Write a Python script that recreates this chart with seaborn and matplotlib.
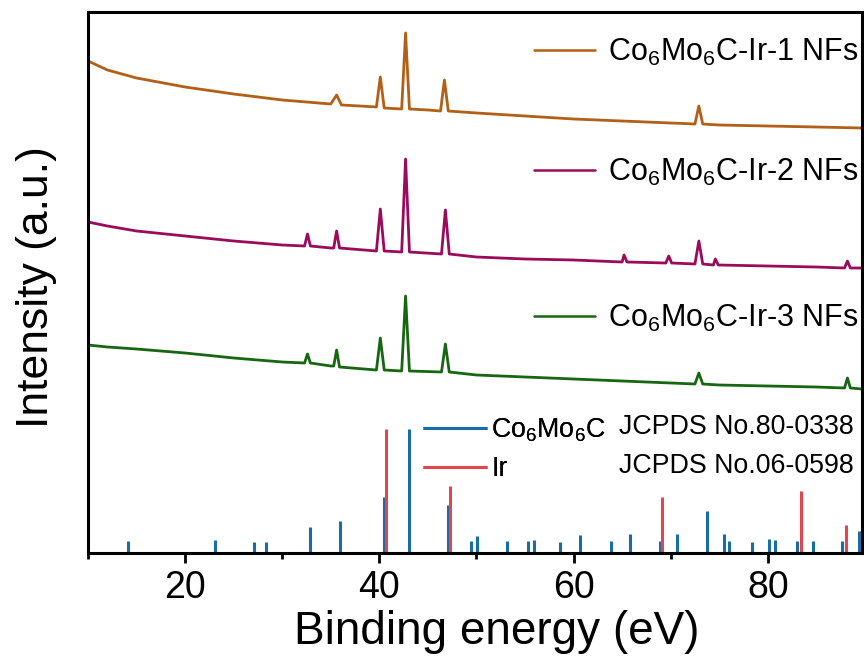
import numpy as np
import pandas as pd
import matplotlib
matplotlib.use("Agg")
import matplotlib.pyplot as plt
import seaborn as sns
from matplotlib.ticker import MultipleLocator
from matplotlib.lines import Line2D

# ---------------- data ----------------
# Curve 1 (Co6Mo6C-Ir-1 NFs)
x1 = [10, 12, 15, 20, 25, 30, 35, 35.6, 36.1, 38, 39.7, 40.1, 40.5, 42.3, 42.7, 43.1,
      45, 46.3, 46.7, 47.1, 50, 55, 60, 65, 70, 72.5, 72.9, 73.3, 75, 80, 85, 89.7]
y1 = [492, 483, 475, 466, 459, 453, 449, 458, 448, 447, 446, 476, 445, 444, 520, 444,
      443, 442, 473, 442, 440, 437, 434, 432, 430, 429, 447, 429, 428, 427, 426, 425]

# Curve 2 (Co6Mo6C-Ir-2 NFs)
x2 = [10, 12, 15, 20, 25, 30, 32.3, 32.6, 32.9, 35, 35.3, 35.6, 35.9, 39.7, 40.1, 40.5,
      42.3, 42.7, 43.1, 46.4, 46.8, 47.2, 50, 55, 60, 65, 65.2, 65.5, 69.5, 69.8, 70.1,
      72.5, 72.9, 73.3, 74.4, 74.6, 74.9, 80, 85, 87.9, 88.2, 88.5, 89.7]
y2 = [331, 327, 322, 317, 312, 308, 307, 319, 307, 305, 305, 322, 305, 302, 344, 302,
      301, 394, 301, 299, 343, 299, 296, 294, 293, 291, 298, 291, 290, 297, 290,
      289, 312, 289, 288, 294, 288, 287, 286, 285, 292, 285, 285]

# Curve 3 (Co6Mo6C-Ir-3 NFs)
x3 = [10, 12, 15, 20, 25, 30, 32.3, 32.6, 32.9, 35, 35.3, 35.6, 35.9, 39.7, 40.1, 40.5,
      42.3, 42.7, 43.1, 46.4, 46.8, 47.2, 50, 55, 60, 65, 70, 72.5, 72.9, 73.3, 75, 80,
      85, 87.9, 88.2, 88.5, 89.7]
y3 = [208, 206, 204, 200, 195, 191, 190, 199, 190, 187, 187, 203, 186, 183, 215, 183,
      182, 257, 182, 181, 209, 181, 178, 176, 174, 172, 170, 169, 180, 169, 168, 167,
      166, 165, 175, 165, 164]

labels = ["Co$_\\mathrm{6}$Mo$_\\mathrm{6}$C-Ir-1 NFs",
          "Co$_\\mathrm{6}$Mo$_\\mathrm{6}$C-Ir-2 NFs",
          "Co$_\\mathrm{6}$Mo$_\\mathrm{6}$C-Ir-3 NFs"]
colors = ["#B25F17", "#9A0B5C", "#176612"]

# Reference pattern: Co6Mo6C (JCPDS No.80-0338)
co_pos = [14.1, 23.1, 27.1, 28.3, 32.9, 35.9, 40.5, 43.1, 47.1, 49.45, 50.1, 53.1, 55.3,
          55.9, 58.6, 60.7, 63.9, 65.8, 68.9, 70.7, 73.7, 75.5, 76.0, 78.4, 80.1, 80.7,
          83.0, 84.7, 87.6, 89.4]
co_int = [11.6, 13.3, 10.6, 11.3, 26, 32.3, 56, 124, 48.3, 11.6, 17, 11.6, 11.6,
          13.3, 10.6, 18, 11.6, 19, 12.3, 19, 41.6, 19, 11.6, 10.6, 14, 12.6,
          11.6, 11.6, 11.6, 22.3]
# Reference pattern: Ir (JCPDS No.06-0598)
ir_pos = [40.7, 47.3, 69.1, 83.4, 88.05]
ir_int = [124, 67.3, 56, 62.3, 28.3]

ref_labels = ["Co$_\\mathrm{6}$Mo$_\\mathrm{6}$C", "Ir"]
ref_cards = ["JCPDS No.80-0338", "JCPDS No.06-0598"]
ref_colors = ["#1A6CA8", "#E0474C"]

# ---------------- styling ----------------
sns.set_theme(style="ticks")
plt.rcParams["font.family"] = ["Liberation Sans", "DejaVu Sans"]
plt.rcParams["mathtext.fontset"] = "custom"
plt.rcParams["mathtext.rm"] = "Liberation Sans"
plt.rcParams["mathtext.it"] = "Liberation Sans:italic"
plt.rcParams["mathtext.bf"] = "Liberation Sans:bold"
plt.rcParams["text.color"] = "black"
plt.rcParams["axes.labelcolor"] = "black"
plt.rcParams["xtick.color"] = "black"
plt.rcParams["xtick.labelcolor"] = "black"
plt.rcParams["legend.labelcolor"] = "black"

fig = plt.figure(figsize=(8.64, 6.68), dpi=100)
ax = fig.add_axes([88 / 864, 1 - 553 / 668, (862 - 88) / 864, (553 - 12) / 668])

frames = []
for xs, ys, lab in zip([x1, x2, x3], [y1, y2, y3], labels):
    frames.append(pd.DataFrame({"x": xs, "y": ys, "sample": lab}))
df = pd.concat(frames, ignore_index=True)

sns.lineplot(data=df, x="x", y="y", hue="sample", palette=dict(zip(labels, colors)),
             ax=ax, linewidth=2.0, sort=False, estimator=None, legend=False)

ax.vlines(co_pos, 0, co_int, color=ref_colors[0], linewidth=2.2, label=ref_labels[0])
ax.vlines(ir_pos, 0, ir_int, color=ref_colors[1], linewidth=2.2, label=ref_labels[1])

ax.set_xlim(10, 89.7)
ax.set_ylim(0, 541)
ax.set_yticks([])
ax.xaxis.set_major_locator(MultipleLocator(20))
ax.xaxis.set_minor_locator(MultipleLocator(10))
ax.tick_params(axis="x", which="major", length=7, width=2, labelsize=27, pad=5,
               direction="out", colors="black")
ax.tick_params(axis="x", which="minor", length=4, width=2, direction="out",
               colors="black")
for s in ax.spines.values():
    s.set_linewidth(2.2)
    s.set_color("black")

ax.set_xlabel("Binding energy (eV)", fontsize=33, color="black")
ax.set_ylabel("Intensity (a.u.)", fontsize=32, color="black")
ax.xaxis.set_label_coords(0.528, -0.105)
ax.yaxis.set_label_coords(-0.0395, 0.492)

# upper legends: one per curve
leg_y = [0.926, 0.704, 0.434]
for lab, col, yy in zip(labels, colors, leg_y):
    h = Line2D([], [], color=col, linewidth=1.8)
    lg = ax.legend([h], [lab], loc="center right", bbox_to_anchor=(0.995, yy),
                   frameon=False, fontsize=22, handlelength=2.0, handletextpad=0.4,
                   borderpad=0, borderaxespad=0, labelcolor="black")
    ax.add_artist(lg)

# reference legend
lg2 = ax.legend(loc="upper left", bbox_to_anchor=(0.433, 0.252), frameon=False,
                fontsize=19.3, handlelength=2.4, handletextpad=0.15, borderpad=0,
                borderaxespad=0, labelspacing=0.45, labelcolor="black")
ax.add_artist(lg2)
for card, yy in zip(ref_cards, [0.232, 0.160]):
    ax.text(0.686, yy, card, transform=ax.transAxes, fontsize=19.3, va="center",
            ha="left", color="black")

fig.savefig("out.png", dpi=100)
